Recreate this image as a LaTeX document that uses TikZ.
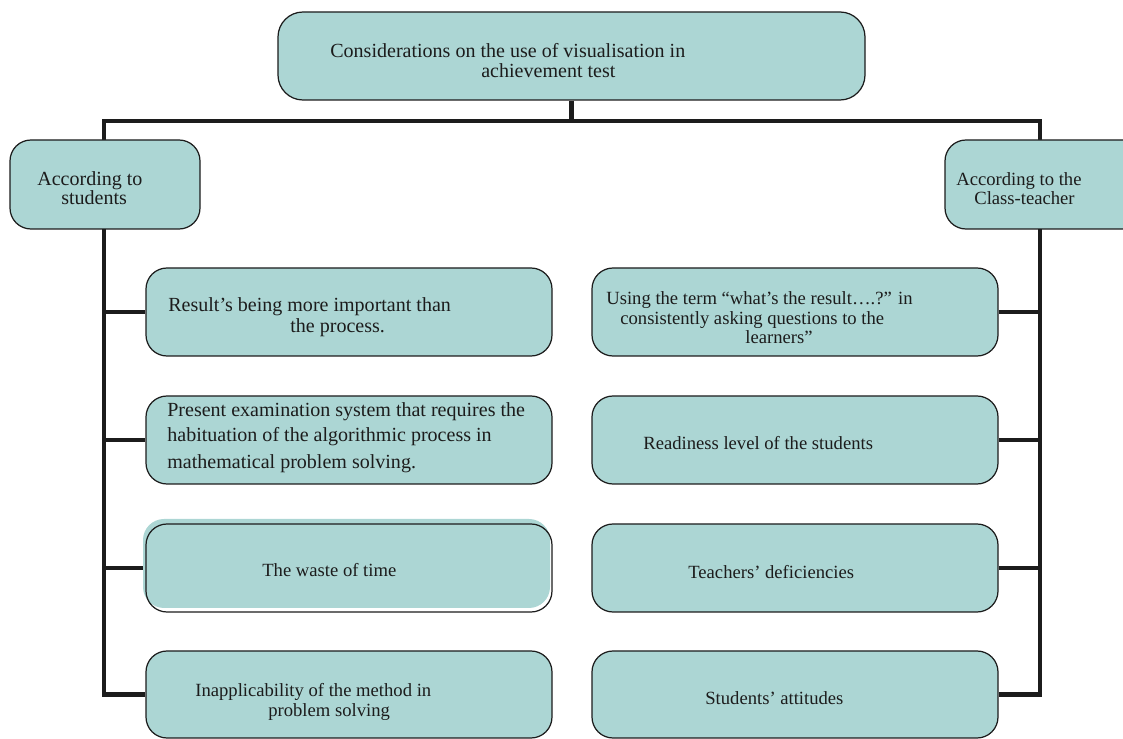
\documentclass[tikz,border=0pt]{standalone}
\usepackage{fontspec}
\setmainfont{Liberation Serif}
\usetikzlibrary{backgrounds}
\definecolor{boxfill}{RGB}{172,214,212}
\definecolor{ink}{RGB}{28,28,28}
\begin{document}
\begin{tikzpicture}[x=0.02cm,y=-0.02cm,
  box/.style={rectangle, draw=ink, line width=0.7pt, fill=boxfill, rounded corners=0.42cm, inner sep=0pt},
  boxline/.style={rectangle, draw=ink, line width=0.7pt, rounded corners=0.42cm, inner sep=0pt},
  conn/.style={draw=ink, line width=2.3pt, line join=miter},
  txt/.style={anchor=mid west, inner sep=0pt, font=\fontsize{11.4}{13}\selectfont, text=ink},
  stxt/.style={txt, font=\fontsize{10.6}{12}\selectfont}]
\useasboundingbox (0,0) rectangle (1123,739);
\clip (0,0) rectangle (1123,739);

% boxes
\node[box, rounded corners=0.5cm, minimum width=587*0.02cm, minimum height=88*0.02cm] (top) at (571.5,56) {};
\node[box, minimum width=190*0.02cm, minimum height=89*0.02cm] (ls) at (105,184.5) {};
\node[box, minimum width=205*0.02cm, minimum height=89*0.02cm] (rs) at (1047.5,184.5) {};

\node[box, minimum width=406*0.02cm, minimum height=88*0.02cm] (L1) at (349,312) {};
\node[box, minimum width=406*0.02cm, minimum height=88*0.02cm] (L2) at (349,440) {};
\fill[boxfill, rounded corners=0.42cm] (143,519) rectangle (550,608);
\node[boxline, minimum width=406*0.02cm, minimum height=88*0.02cm] (L3) at (349,568) {};
\node[box, minimum width=406*0.02cm, minimum height=87*0.02cm] (L4) at (349,694.5) {};

\node[box, minimum width=406*0.02cm, minimum height=88*0.02cm] (R1) at (795,312) {};
\node[box, minimum width=406*0.02cm, minimum height=88*0.02cm] (R2) at (795,440) {};
\node[box, minimum width=406*0.02cm, minimum height=88*0.02cm] (R3) at (795,568) {};
\node[box, minimum width=406*0.02cm, minimum height=87*0.02cm] (R4) at (795,694.5) {};

% connector coordinates
\coordinate (hl) at (104,121);
\coordinate (hr) at (1040,121);
\coordinate (bl) at (104,694.5);
\coordinate (br) at (1040,694.5);

\begin{pgfonlayer}{background}
  \path[conn] (top.south) -- (top.south |- hl);
  \path[conn] (L4.west) -- (bl) -- (hl) -- (hr) -- (br) -- (R4.east);
  \path[conn] (L1.west) -- (L1.west -| hl);
  \path[conn] (L2.west) -- (L2.west -| hl);
  \path[conn] (L3.west) -- (L3.west -| hl);
  \path[conn] (R1.east) -- (R1.east -| hr);
  \path[conn] (R2.east) -- (R2.east -| hr);
  \path[conn] (R3.east) -- (R3.east -| hr);
\end{pgfonlayer}

% texts
\node[txt] (top1) at (330,53) {Considerations on the use of visualisation in};
\node[txt] (top2) at (481,73) {achievement test};
\node[txt] (ls1) at (37,181) {According to};
\node[txt] (ls2) at (61,200) {students};
\node[stxt] (rs1) at (956,181) {According to the};
\node[stxt] (rs2) at (974,200) {Class-teacher};

\node[txt] (l1a) at (168,307) {Result’s being more important than};
\node[txt] (l1b) at (290,328) {the process.};
\node[txt] (l2a) at (167,412) {Present examination system that requires the};
\node[txt] (l2b) at (167,437) {habituation of the algorithmic process in};
\node[txt] (l2c) at (167,464) {mathematical problem solving.};
\node[stxt] (l3a) at (262,572) {The waste of time};
\node[stxt] (l4a) at (195,692) {Inapplicability of the method in};
\node[stxt] (l4b) at (268,712) {problem solving};

\node[stxt] (r1a) at (606,300) {Using the term “what’s the result….?” in};
\node[stxt] (r1b) at (620,320) {consistently asking questions to the};
\node[stxt] (r1c) at (745,339) {learners”};
\node[stxt] (r2a) at (643,445) {Readiness level of the students};
\node[stxt] (r3a) at (688,574) {Teachers’ deficiencies};
\node[stxt] (r4a) at (705,700) {Students’ attitudes};
\end{tikzpicture}
\end{document}
